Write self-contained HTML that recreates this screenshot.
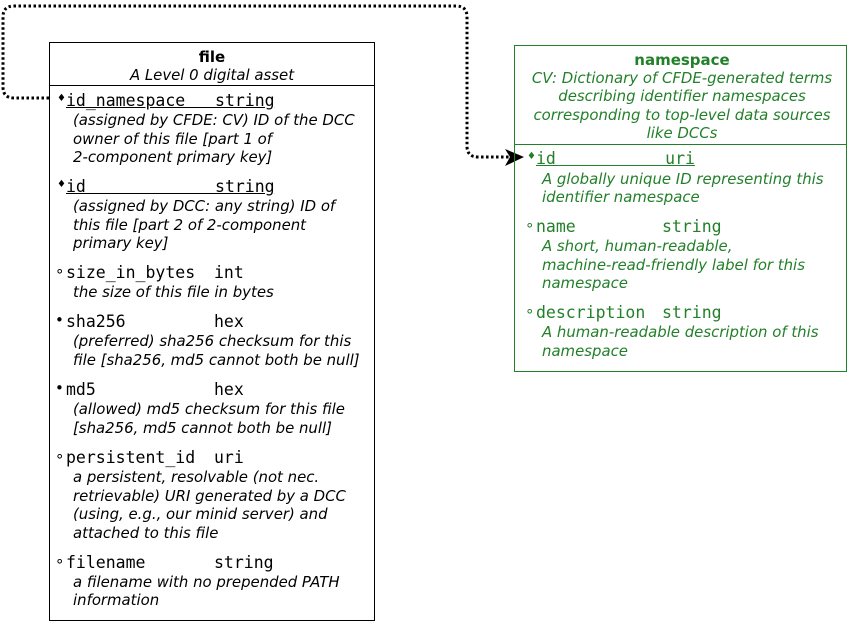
<!DOCTYPE html>
<html><head><meta charset="utf-8"><style>
html,body{margin:0;padding:0;background:#fff;}
body{width:867px;height:622px;position:relative;overflow:hidden;font-family:"DejaVu Sans","Liberation Sans",sans-serif;}
.t{position:absolute;white-space:pre;line-height:18px;}
.m{font-family:"DejaVu Sans Mono","Liberation Mono",monospace;font-size:16.5px;}
.d{font-style:italic;font-size:14.9px;}
.b{font-weight:bold;font-size:15px;}
.u{text-decoration:underline;}
.g{color:#23802a;}
.c{text-align:center;}
.k{font-size:15px;}
.dm{font-size:10px;}
.box{position:absolute;box-sizing:border-box;}
</style></head><body>
<svg width="867" height="622" style="position:absolute;left:0;top:0">
<path d="M49,98 L14,98 Q3,98 3,87 L3,17 Q3,6 14,6 L456,6 Q467,6 467,17 L467,146 Q467,157 478,157 L510,157" fill="none" stroke="#000" stroke-width="3" stroke-dasharray="2.5,2.5"/>
<polygon points="524,157 505,149 510,157 505,166" fill="#000"/>
</svg>
<div class="box" style="left:49px;top:42px;width:326px;height:579px;border:1.3px solid #000"></div>
<div class="box" style="left:49px;top:85px;width:326px;height:1.3px;background:#000"></div>
<div class="t b c" style="left:49px;width:326px;top:48px">file</div>
<div class="t d c" style="left:49px;width:326px;top:66px">A Level 0 digital asset</div>

<div class="t dm" style="left:57px;top:90px">♦</div>
<div class="t m u" style="left:66px;top:92px">id_namespace   string</div>
<div class="t d" style="left:73px;top:111px">(assigned by CFDE: CV) ID of the DCC</div>
<div class="t d" style="left:73px;top:130px">owner of this file [part 1 of</div>
<div class="t d" style="left:73px;top:148px">2-component primary key]</div>

<div class="t dm" style="left:57px;top:176px">♦</div>
<div class="t m u" style="left:66px;top:178px">id             string</div>
<div class="t d" style="left:73px;top:197px">(assigned by DCC: any string) ID of</div>
<div class="t d" style="left:73px;top:216px">this file [part 2 of 2-component</div>
<div class="t d" style="left:73px;top:234px">primary key]</div>

<div class="t k" style="left:55px;top:262px">∘</div>
<div class="t m" style="left:66px;top:264px">size_in_bytes</div>
<div class="t m" style="left:214px;top:264px">int</div>
<div class="t d" style="left:73px;top:283px">the size of this file in bytes</div>

<div class="t k" style="left:55px;top:311px">•</div>
<div class="t m" style="left:66px;top:313px">sha256</div>
<div class="t m" style="left:214px;top:313px">hex</div>
<div class="t d" style="left:73px;top:332px">(preferred) sha256 checksum for this</div>
<div class="t d" style="left:73px;top:351px">file [sha256, md5 cannot both be null]</div>

<div class="t k" style="left:55px;top:379px">•</div>
<div class="t m" style="left:66px;top:381px">md5</div>
<div class="t m" style="left:214px;top:381px">hex</div>
<div class="t d" style="left:73px;top:400px">(allowed) md5 checksum for this file</div>
<div class="t d" style="left:73px;top:419px">[sha256, md5 cannot both be null]</div>

<div class="t k" style="left:55px;top:447px">∘</div>
<div class="t m" style="left:66px;top:449px">persistent_id</div>
<div class="t m" style="left:214px;top:449px">uri</div>
<div class="t d" style="left:73px;top:468px">a persistent, resolvable (not nec.</div>
<div class="t d" style="left:73px;top:487px">retrievable) URI generated by a DCC</div>
<div class="t d" style="left:73px;top:505px">(using, e.g., our minid server) and</div>
<div class="t d" style="left:73px;top:524px">attached to this file</div>

<div class="t k" style="left:55px;top:552px">∘</div>
<div class="t m" style="left:66px;top:554px">filename</div>
<div class="t m" style="left:214px;top:554px">string</div>
<div class="t d" style="left:73px;top:573px">a filename with no prepended PATH</div>
<div class="t d" style="left:73px;top:591px">information</div>

<div class="box" style="left:514px;top:45px;width:333px;height:327px;border:1.3px solid #23802a"></div>
<div class="box" style="left:514px;top:144px;width:333px;height:1.3px;background:#23802a"></div>
<div class="t b c g" style="left:514px;width:336px;top:51px">namespace</div>
<div class="t d c g" style="left:514px;width:336px;top:69px">CV: Dictionary of CFDE-generated terms</div>
<div class="t d c g" style="left:514px;width:336px;top:87px">describing identifier namespaces</div>
<div class="t d c g" style="left:514px;width:336px;top:106px">corresponding to top-level data sources</div>
<div class="t d c g" style="left:514px;width:336px;top:124px">like DCCs</div>

<div class="t g dm" style="left:527px;top:148px">♦</div>
<div class="t m u g" style="left:536px;top:150px">id           uri</div>
<div class="t d g" style="left:542px;top:170px">A globally unique ID representing this</div>
<div class="t d g" style="left:542px;top:188px">identifier namespace</div>

<div class="t g k" style="left:525px;top:216px">∘</div>
<div class="t m g" style="left:536px;top:218px">name</div>
<div class="t m g" style="left:662px;top:218px">string</div>
<div class="t d g" style="left:542px;top:237px">A short, human-readable,</div>
<div class="t d g" style="left:542px;top:256px">machine-read-friendly label for this</div>
<div class="t d g" style="left:542px;top:274px">namespace</div>

<div class="t g k" style="left:525px;top:302px">∘</div>
<div class="t m g" style="left:536px;top:304px">description</div>
<div class="t m g" style="left:662px;top:304px">string</div>
<div class="t d g" style="left:542px;top:323px">A human-readable description of this</div>
<div class="t d g" style="left:542px;top:342px">namespace</div>
</body></html>
